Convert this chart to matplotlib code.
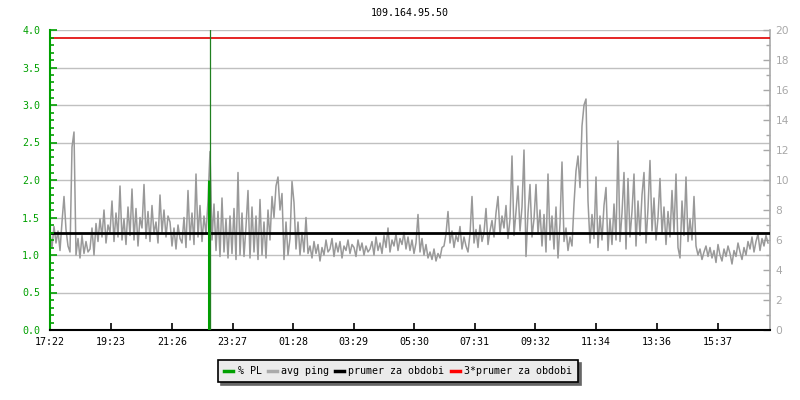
import numpy as np
import matplotlib
matplotlib.use("Agg")
import matplotlib.pyplot as plt
from matplotlib.lines import Line2D
from matplotlib.ticker import MultipleLocator

plt.rcParams['font.family'] = ['DejaVu Sans Mono']

title = "109.164.95.50"
tick_labels = ["17:22", "19:23", "21:26", "23:27", "01:28", "03:29",
               "05:30", "07:31", "09:32", "11:34", "13:36", "15:37"]
tick_minutes = [0, 121, 244, 365, 486, 607, 728, 849, 970, 1092, 1214, 1335]
total_minutes = 1440
sample_step_min = 4

# avg ping in ms (right axis), one value per 4 minutes
ping_ms = [
    6.4, 5.5, 6.9, 5.8, 6.6, 5.3, 7.2, 8.9, 6.7, 5.6,
    5.2, 12.2, 13.2, 5.0, 6.1, 4.8, 6.3, 5.1, 5.9, 5.2,
    5.4, 6.8, 5.0, 7.1, 5.9, 7.4, 6.2, 8.0, 5.8, 7.0,
    6.5, 8.6, 5.9, 7.8, 6.2, 9.6, 6.0, 7.4, 5.7, 8.2,
    6.3, 9.4, 6.0, 8.1, 5.6, 7.5, 6.8, 9.7, 6.1, 7.9,
    5.9, 8.3, 6.4, 7.2, 5.8, 9.0, 6.5, 8.0, 6.2, 7.6,
    7.2, 5.6, 6.8, 5.4, 7.0, 6.1, 5.8, 7.5, 5.5, 9.3,
    6.0, 7.8, 5.7, 10.4, 6.2, 8.3, 5.9, 7.6, 6.4, 8.6,
    11.9, 6.0, 8.4, 5.3, 7.9, 4.9, 8.8, 5.2, 7.4, 4.8,
    7.6, 5.1, 8.1, 4.7, 10.5, 5.0, 7.8, 4.9, 6.9, 9.3,
    4.8, 8.2, 5.2, 7.6, 4.7, 8.7, 5.0, 7.2, 4.8, 8.0,
    6.0, 8.9, 7.5, 9.6, 10.2, 8.0, 9.1, 4.7, 7.2, 5.0,
    6.1, 9.9, 8.5, 5.4, 7.2, 5.0, 6.5, 5.2, 7.5, 5.1,
    5.6, 4.8, 5.9, 5.1, 5.7, 4.6, 5.5, 5.0, 6.0, 5.2,
    5.4, 6.1, 4.9, 5.8, 5.2, 5.9, 4.8, 5.6, 5.3, 6.0,
    5.1, 5.7, 5.5, 4.9, 6.0, 5.3, 5.8, 5.0, 5.6, 5.2,
    5.4, 5.9, 5.0, 6.2, 5.3, 5.8, 5.1, 6.3, 5.5, 6.8,
    5.2, 6.0, 5.6, 6.4, 5.3, 6.1, 5.7, 6.5, 5.4, 6.2,
    5.3, 6.0, 5.1, 5.8, 7.7, 5.2, 6.1, 5.0, 5.7, 4.8,
    5.2, 4.7, 5.4, 4.6, 5.1, 4.8, 5.5, 5.6, 6.4, 7.9,
    5.8, 6.6, 5.5, 6.3, 5.9, 6.9, 5.4, 6.2, 5.6, 5.2,
    6.4, 8.9, 5.8, 6.7, 5.5, 7.0, 5.9, 6.5, 8.1, 5.7,
    6.6, 7.3, 6.2, 7.8, 8.9, 6.4, 7.6, 6.8, 8.3, 6.1,
    7.4, 11.6, 6.3, 7.9, 9.6, 6.6, 8.2, 12.0, 4.9, 7.8,
    9.7, 6.2, 7.4, 9.7, 6.4, 8.0, 5.6, 7.7, 5.2, 10.4,
    6.0, 7.6, 5.4, 8.2, 4.8, 7.1, 11.2, 5.9, 6.8, 5.3,
    6.2, 5.6, 8.4, 10.6, 11.6, 9.5, 13.6, 15.0, 15.4, 8.6,
    5.8, 7.7, 6.1, 10.2, 5.5, 7.6, 6.0, 8.3, 9.5, 5.3,
    7.4, 5.7, 8.4, 6.0, 12.6, 5.9, 7.8, 10.5, 5.4, 10.1,
    6.2, 7.9, 10.4, 5.6, 8.6, 6.3, 9.0, 10.5, 5.8, 8.1,
    11.3, 6.6, 8.8, 6.0, 7.5, 10.1, 6.4, 8.2, 5.7, 7.9,
    6.2, 9.3, 6.5, 10.4, 5.5, 4.8, 8.6, 6.3, 10.2, 5.9,
    7.4, 6.0, 8.9, 5.6, 5.0, 5.4, 4.7, 5.2, 5.6, 4.9,
    5.5, 4.8, 5.3, 4.5, 5.7, 5.0, 4.6, 5.4, 4.9, 5.6,
    5.1, 4.4, 5.3, 4.9, 5.8, 5.2, 4.7, 5.5, 5.0, 5.9,
    5.4, 6.2, 5.2, 5.9, 6.4, 5.3, 6.1, 5.6, 6.3, 5.8,
]
mean_ping_ms = 6.5
triple_mean_ms = 3 * mean_ping_ms

# packet loss events (% PL, left axis)
pl_minute = [317]
pl_value = [2.0]
pl_off_scale_minute = [319]

ping_t = np.arange(len(ping_ms)) * sample_step_min

GREEN = "#00a000"
GRAY = "#999999"
AXGRAY = "#a8a8a8"
FS = 7.2

fig = plt.figure(figsize=(8, 4), dpi=100)
pos = [50 / 800, 70 / 400, 720 / 800, 300 / 400]
ax = fig.add_axes(pos)
ax2 = ax.twinx()
ax.set_zorder(ax2.get_zorder() + 1)
ax.patch.set_visible(False)

# right axis: ping
ax2.set_xlim(0, total_minutes)
ax2.set_ylim(0, 20)
for g in np.arange(2.5, 20.01, 2.5):
    ax2.axhline(g, color="#c0c0c0", lw=1, zorder=0)
ax2.plot(ping_t, ping_ms, color=GRAY, lw=1.1, zorder=2)
ax2.axhline(mean_ping_ms, color="black", lw=2, zorder=3)
ax2.axhline(triple_mean_ms, color="#e00000", lw=1.2, zorder=3)

# left axis: packet loss
ax.set_xlim(0, total_minutes)
ax.set_ylim(0, 4)
ax.vlines(pl_minute, 0, pl_value, color=GREEN, lw=2.2, zorder=4)
for m in pl_off_scale_minute:
    ax.axvline(m, color="#208020", lw=0.9, zorder=4)

# spines & ticks
for a in (ax, ax2):
    a.spines['top'].set_visible(False)
ax.spines['right'].set_visible(False)
ax.spines['left'].set_color(GREEN)
ax.spines['left'].set_linewidth(1.5)
ax.spines['bottom'].set_color("black")
ax.spines['bottom'].set_linewidth(1.5)
ax2.spines['left'].set_visible(False)
ax2.spines['bottom'].set_visible(False)
ax2.spines['right'].set_color(AXGRAY)
ax2.spines['right'].set_linewidth(1.2)

ax.yaxis.set_major_locator(MultipleLocator(0.5))
ax.yaxis.set_minor_locator(MultipleLocator(0.1))
ax.yaxis.set_major_formatter(matplotlib.ticker.FormatStrFormatter('%.1f'))
ax.tick_params(axis='y', which='major', direction='in', length=5, width=1.2,
               color=GREEN, labelcolor=GREEN, labelsize=FS, pad=7)
ax.tick_params(axis='y', which='minor', direction='in', length=3, width=1.2,
               color=GREEN)

ax.set_xticks(tick_minutes)
ax.set_xticklabels(tick_labels)
ax.tick_params(axis='x', direction='in', length=5, width=1.2, color="black",
               labelsize=FS, pad=5)

ax2.yaxis.set_major_locator(MultipleLocator(2))
ax2.yaxis.set_minor_locator(MultipleLocator(1))
ax2.tick_params(axis='y', which='major', direction='in', length=5, width=1,
                color=AXGRAY, labelcolor=AXGRAY, labelsize=FS + 0.5, pad=4)
ax2.tick_params(axis='y', which='minor', direction='in', length=3, width=1,
                color=AXGRAY)
for lbl in ax2.get_yticklabels():
    lbl.set_fontfamily(['DejaVu Sans'])

fig.text(0.5125, 1 - 13 / 400, title, ha="center", va="center", fontsize=FS)

handles = [
    Line2D([], [], color=GREEN, lw=2.5),
    Line2D([], [], color="#aaaaaa", lw=2.5),
    Line2D([], [], color="black", lw=2.5),
    Line2D([], [], color="#ff0000", lw=2.5),
]
labels = ["% PL", "avg ping", "prumer za obdobi", "3*prumer za obdobi"]
leg = fig.legend(handles, labels, loc="center", bbox_to_anchor=(398 / 800, 1 - 371 / 400),
                 ncol=4, fontsize=FS, handlelength=0.9, handletextpad=0.45,
                 columnspacing=0.6, borderpad=0.6, fancybox=False,
                 shadow={'color': '#666666', 'alpha': 1.0}, frameon=True,
                 borderaxespad=0)
leg.get_frame().set_facecolor("#ebebeb")
leg.get_frame().set_edgecolor("black")
leg.get_frame().set_linewidth(1.2)
leg.get_frame().set_alpha(1.0)

fig.savefig("out.png", dpi=100)
